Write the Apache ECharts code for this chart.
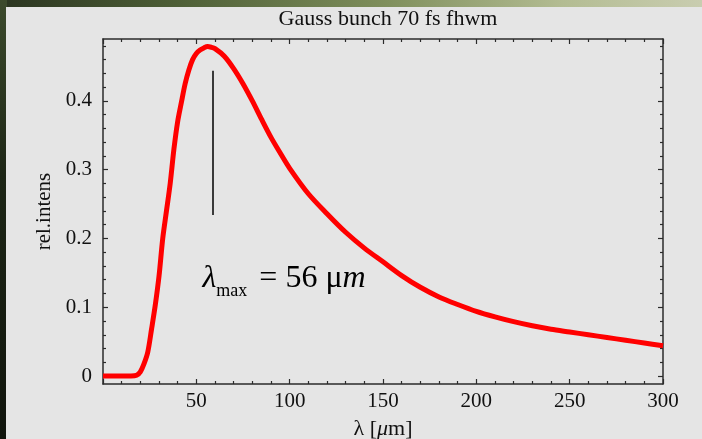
<!DOCTYPE html>
<html>
<head>
	<meta charset="utf-8" />
	<title>Gauss bunch 70 fs fhwm</title>
	<script src="https://cdn.jsdelivr.net/npm/echarts@6/dist/echarts.min.js"></script>
	<style>
		html, body { margin: 0; padding: 0; width: 702px; height: 439px; overflow: hidden; }
		body { position: relative; background: linear-gradient(to right, #2a3420 0%, #4d5e36 25%, #7f8f5c 55%, #b3bc92 80%, #c9cdb0 100%); }
		#leftStrip { position: absolute; left: 0; top: 0; width: 7px; height: 439px; background: linear-gradient(to bottom, #3c4a2c 0%, #1d2616 40%, #10140c 100%); }
		#panel { position: absolute; left: 6px; top: 7px; right: 0; bottom: 0; background: #e5e5e5; }
		#main { position: absolute; left: 0; top: 0; width: 702px; height: 439px; }
	</style>
</head>
<body>
	<div id="leftStrip"></div>
	<div id="panel"></div>
	<div id="main"></div>
	<script type="text/javascript">
		// wavelength in um
		var lambdaValues = [0, 5, 10, 15, 18, 20, 22, 24, 26, 28, 30, 32, 34, 36, 38, 40, 42, 44, 46, 48,
			50, 52, 54, 56, 58, 60, 65, 70, 75, 80, 85, 90, 95, 100, 110, 120, 130, 140, 150,
			160, 170, 180, 190, 200, 210, 220, 230, 240, 250, 260, 270, 280, 290, 300];
		// relative intensity
		var intensValues = [0, 0, 0, 0, 0.001, 0.006, 0.018, 0.035, 0.068, 0.103, 0.145, 0.2, 0.24, 0.28, 0.33, 0.37, 0.398, 0.425, 0.445, 0.46,
			0.469, 0.474, 0.477, 0.479, 0.478, 0.476, 0.465, 0.447, 0.425, 0.4, 0.373, 0.347, 0.324, 0.302, 0.265, 0.236, 0.209, 0.186, 0.166,
			0.146, 0.129, 0.115, 0.104, 0.094, 0.086, 0.079, 0.073, 0.068, 0.064, 0.06, 0.056, 0.052, 0.048, 0.044];

		var yMajorTicks = [0, 0.1, 0.2, 0.3, 0.4];
		var yMinorTicks = [0.02, 0.04, 0.06, 0.08, 0.12, 0.14, 0.16, 0.18, 0.22, 0.24, 0.26, 0.28,
			0.32, 0.34, 0.36, 0.38, 0.42, 0.44, 0.46, 0.48];

		// peak marker and its text
		var peakLineX = 59;
		var peakLineY = [0.234, 0.444];
		var peakTextAt = [97, 0.142];

		var serif = "'Liberation Serif', 'DejaVu Serif', serif";
		var frameColor = '#2b2b2b';

		var chartData = [];
		for (var i = 0; i < lambdaValues.length; i++) {
			chartData.push([lambdaValues[i], intensValues[i]]);
		}

		function xAxisCfg(pos, withLabels) {
			return {
				type: 'value',
				position: pos,
				min: 0,
				max: 300,
				interval: 50,
				axisLine: { show: true, onZero: false, lineStyle: { color: frameColor, width: 1.5 } },
				axisTick: { show: true, inside: true, length: 5, lineStyle: { color: frameColor, width: 1.2 } },
				minorTick: { show: true, splitNumber: 5, length: 3, lineStyle: { color: frameColor, width: 1.2 } },
				splitLine: { show: false },
				axisLabel: {
					show: withLabels,
					margin: 7,
					color: '#111',
					fontFamily: serif,
					fontSize: 21,
					formatter: function(v) { return v === 0 ? '' : String(v); }
				}
			};
		}

		function yAxisCfg(pos, ticks, len, withLine, withLabels) {
			return {
				type: 'value',
				position: pos,
				min: -0.0116,
				max: 0.49,
				axisLine: { show: withLine, onZero: false, lineStyle: { color: frameColor, width: 1.5 } },
				axisTick: { show: true, inside: true, length: len, customValues: ticks, lineStyle: { color: frameColor, width: 1.2 } },
				splitLine: { show: false },
				axisLabel: {
					show: withLabels,
					customValues: ticks,
					margin: 11,
					color: '#111',
					fontFamily: serif,
					fontSize: 21
				}
			};
		}

		var xBottom = xAxisCfg('bottom', true);
		xBottom.name = '{a|λ [}{b|μ}{a|m]}';
		xBottom.nameLocation = 'middle';
		xBottom.nameGap = 34;
		xBottom.nameTextStyle = {
			rich: {
				a: { fontFamily: serif, fontSize: 22, color: '#111' },
				b: { fontFamily: serif, fontSize: 22, fontStyle: 'italic', color: '#111' }
			}
		};

		var yLeft = yAxisCfg('left', yMajorTicks, 5, true, true);
		yLeft.name = 'rel.intens';
		yLeft.nameLocation = 'middle';
		yLeft.nameRotate = 90;
		yLeft.nameGap = 46;
		yLeft.nameTextStyle = { fontFamily: serif, fontSize: 21, color: '#111' };

		var myChart = echarts.init(document.getElementById('main'));
		var option = {
			backgroundColor: 'transparent',
			animation: false,
			title: {
				text: 'Gauss bunch 70 fs fhwm',
				left: 383,
				textAlign: 'center',
				top: 3,
				textStyle: { fontFamily: serif, fontWeight: 'normal', fontSize: 22, color: '#111' }
			},
			grid: {
				left: 103,
				right: 39,
				top: 39,
				bottom: 55,
				containLabel: false,
				outerBoundsMode: 'none'
			},
			xAxis: [xBottom, xAxisCfg('top', false)],
			yAxis: [
				yLeft,
				yAxisCfg('left', yMinorTicks, 3, false, false),
				yAxisCfg('right', yMajorTicks, 5, true, false),
				yAxisCfg('right', yMinorTicks, 3, false, false)
			],
			series: [{
				name: 'rel.intens',
				type: 'line',
				data: chartData,
				showSymbol: false,
				smooth: 0.3,
				lineStyle: { color: '#ff0000', width: 5 },
				markLine: {
					silent: true,
					symbol: ['none', 'none'],
					label: { show: false },
					lineStyle: { color: '#000', width: 1.5, type: 'solid' },
					data: [[{ coord: [peakLineX, peakLineY[0]] }, { coord: [peakLineX, peakLineY[1]] }]]
				},
				markPoint: {
					silent: true,
					symbol: 'circle',
					symbolSize: 1,
					itemStyle: { color: 'transparent' },
					label: {
						show: true,
						position: 'inside',
						formatter: '{l|λ}{s|max}{n| = 56 μ}{i|m}',
						rich: {
							l: { fontFamily: serif, fontSize: 32, fontStyle: 'italic', color: '#000' },
							s: { fontFamily: serif, fontSize: 18, color: '#000', verticalAlign: 'bottom', padding: [0, 4, -6, 0] },
							n: { fontFamily: serif, fontSize: 32, color: '#000' },
							i: { fontFamily: serif, fontSize: 32, fontStyle: 'italic', color: '#000' }
						}
					},
					data: [{ coord: peakTextAt }]
				}
			}]
		};
		myChart.setOption(option);
	</script>
</body>
</html>
